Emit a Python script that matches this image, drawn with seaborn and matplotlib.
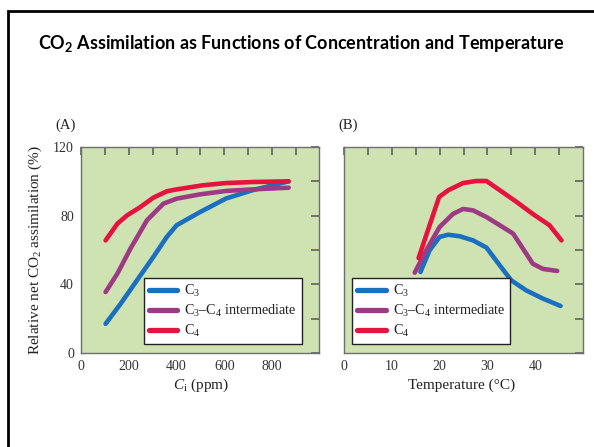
import numpy as np
import pandas as pd
import matplotlib
matplotlib.use("Agg")
import matplotlib.pyplot as plt
from matplotlib.lines import Line2D
import seaborn as sns

# ---- data ----
ci_c3 = [103, 166, 234, 303, 359, 400, 497, 607, 717, 869]
a_c3 = [17, 28.7, 42.3, 56, 67.6, 74.4, 82, 90, 94.8, 100]
ci_int = [103, 152, 207, 276, 345, 400, 497, 607, 717, 869]
a_int = [35.5, 46.2, 60.8, 77.3, 87, 89.9, 92.4, 94.4, 95.3, 96.3]
ci_c4 = [103, 152, 193, 248, 303, 359, 400, 510, 607, 717, 869]
a_c4 = [65.6, 75.3, 80.2, 85, 90.5, 94.2, 95.3, 97.7, 99, 99.6, 100]

t_c3 = [16.0, 17.9, 20.0, 21.8, 24.2, 27.0, 29.8, 32.6, 35.0, 38.1, 41.6, 45.3]
b_c3 = [47.2, 59.8, 67.6, 68.9, 68.0, 65.6, 61.4, 51.0, 42.3, 36.5, 31.7, 27.4]
t_int = [14.8, 17.2, 20.0, 22.8, 24.9, 27.0, 29.8, 32.6, 35.4, 39.5, 41.6, 44.6]
b_int = [46.8, 59.8, 73.4, 81.0, 83.9, 83.1, 79.2, 74.4, 69.5, 52.0, 49.0, 47.8]
t_c4 = [15.6, 19.9, 21.8, 24.9, 27.7, 29.8, 32.6, 36.1, 39.5, 43.0, 45.5]
b_c4 = [55.3, 90.9, 94.8, 99.0, 100.2, 100.2, 94.8, 88.0, 81.0, 74.4, 65.6]

series = ["C3", "C3-C4", "C4"]
legend_labels = [r"C$_3$", r"C$_3$–C$_4$ intermediate", r"C$_4$"]
colors = {"C3": "#1a6fc0", "C3-C4": "#9c3b84", "C4": "#e5133e"}

ci_ticks = list(range(0, 1000, 100))
ci_labels = ["0", "", "200", "", "400", "", "600", "", "800", ""]
y_ticks = list(range(0, 121, 20))
y_labels = ["0", "", "40", "", "80", "", "120"]
t_ticks = list(range(0, 50, 5))
t_labels = ["0", "", "10", "", "20", "", "30", "", "40", ""]

dfA = pd.DataFrame({
    "x": ci_c3 + ci_int + ci_c4,
    "y": a_c3 + a_int + a_c4,
    "s": ["C3"] * len(ci_c3) + ["C3-C4"] * len(ci_int) + ["C4"] * len(ci_c4),
})
dfB = pd.DataFrame({
    "x": t_c3 + t_int + t_c4,
    "y": b_c3 + b_int + b_c4,
    "s": ["C3"] * len(t_c3) + ["C3-C4"] * len(t_int) + ["C4"] * len(t_c4),
})

sns.set_style("white")
plt.rcParams["font.family"] = ["Liberation Serif", "DejaVu Serif"]
plt.rcParams["mathtext.fontset"] = "custom"
plt.rcParams["mathtext.rm"] = "Liberation Serif"
plt.rcParams["mathtext.it"] = "Liberation Serif:italic"
plt.rcParams["mathtext.default"] = "regular"

W, H = 594, 447
fig = plt.figure(figsize=(W / 100, H / 100), dpi=100)
fig.patch.set_facecolor("white")

def px_axes(l, r, t, b):
    return fig.add_axes([l / W, (H - b) / H, (r - l) / W, (b - t) / H])

axA = px_axes(81, 319, 147, 353)
axB = px_axes(344, 583, 147, 353)

bg = "#cfe3b2"
frame = "#6e6e6e"
tickc = "#333333"

for ax, df in ((axA, dfA), (axB, dfB)):
    sns.lineplot(data=df, x="x", y="y", hue="s", hue_order=series,
                 palette=colors, linewidth=3.3, sort=False, estimator=None,
                 ax=ax, legend=False)
    ax.set_facecolor(bg)
    for sp in ax.spines.values():
        sp.set_color(frame)
        sp.set_linewidth(1.0)
    ax.set_ylim(0, 120)
    ax.set_yticks(y_ticks)
    ax.tick_params(direction="in", length=5.5, width=1.1, color="#555555",
                   top=True, right=True, labelsize=10, labelcolor=tickc, pad=5)
    ax.set_xlabel("")
    ax.set_ylabel("")
    handles = [Line2D([0], [0], color=colors[s], lw=3.8, solid_capstyle="round")
               for s in series]
    leg = ax.legend(handles, legend_labels, loc="lower left",
                    bbox_to_anchor=(0.265, 0.045) if ax is axA else (0.035, 0.045),
                    borderaxespad=0, frameon=True, fancybox=False,
                    edgecolor="#222222", facecolor="white", framealpha=1,
                    fontsize=10.2, handlelength=2.0, handletextpad=0.5,
                    labelspacing=0.25, borderpad=0.35)
    leg.get_frame().set_linewidth(1.0)
    for t in leg.get_texts():
        t.set_color("#222222")

axA.set_xlim(0, 996)
axA.set_xticks(ci_ticks)
axA.set_xticklabels(ci_labels)
axA.set_yticklabels(y_labels)

axB.set_xlim(0, 50)
axB.set_xticks(t_ticks)
axB.set_xticklabels(t_labels)
axB.set_yticklabels([])

def fx(x):
    return x / W

def fy(y):
    return 1 - y / H

fig.text(fx(201), fy(385), r"$\mathit{C}_\mathrm{i}$ (ppm)", ha="center", va="center",
         fontsize=11, color="#222222")
fig.text(fx(462), fy(385), "Temperature (°C)", ha="center", va="center",
         fontsize=11, color="#222222")
fig.text(fx(35), fy(250), r"Relative net CO$_2$ assimilation (%)", ha="center",
         va="center", rotation=90, fontsize=11, color="#222222")
fig.text(fx(55), fy(125), "(A)", ha="left", va="center", fontsize=10.5, color="#222222")
fig.text(fx(338), fy(125), "(B)", ha="left", va="center", fontsize=10.5, color="#222222")

fig.text(fx(301), fy(44), r"CO$_2$ Assimilation as Functions of Concentration and Temperature",
         ha="center", va="center", fontsize=13, fontweight="bold",
         family=["Lato", "DejaVu Sans"], color="black")

# outer slide frame
fig.add_artist(Line2D([fx(8), fx(8), fx(W + 5)], [fy(H + 5), fy(11), fy(11)],
                      transform=fig.transFigure, color="black", lw=2.0,
                      solid_joinstyle="miter"))

fig.savefig("out.png", dpi=100)
